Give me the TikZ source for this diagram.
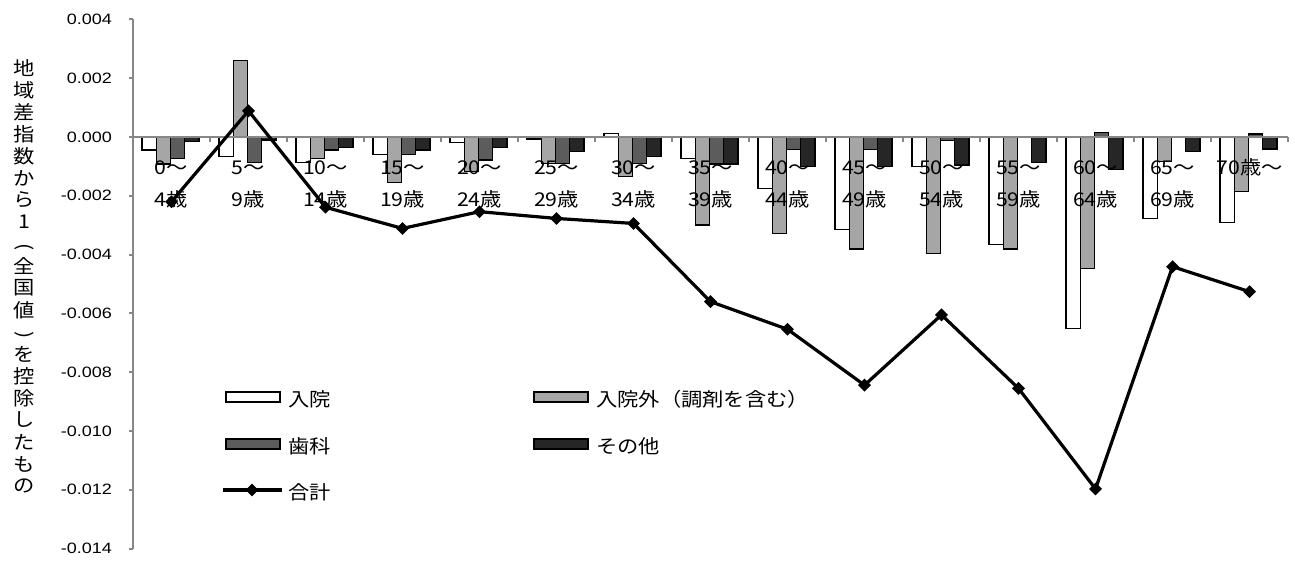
\documentclass[tikz,border=0pt]{standalone}
\usepackage{fontspec}
\setmainfont{Noto Sans CJK JP}[FakeStretch=1.12]
\newfontfamily\numfont{Liberation Sans}[FakeStretch=1.2]
\usetikzlibrary{shapes.geometric}
\usetikzlibrary{positioning}

\definecolor{barGray}{HTML}{A6A6A6}
\definecolor{barDark}{HTML}{5C5C5C}
\definecolor{barBlack}{HTML}{262626}
\definecolor{axisGray}{HTML}{878787}

% white/gray/dark/black bars and total, in units of 0.001
\newcommand{\agedata}{-0.44/-0.92/-0.72/-0.16/-2.20, -0.65/2.59/-0.86/-0.10/0.89,
  -0.87/-0.72/-0.44/-0.35/-2.39, -0.59/-1.55/-0.59/-0.44/-3.11,
  -0.19/-1.18/-0.78/-0.35/-2.54, -0.07/-0.90/-0.90/-0.50/-2.77,
  0.12/-1.33/-0.90/-0.65/-2.94, -0.72/-2.99/-0.92/-0.92/-5.60,
  -1.74/-3.28/-0.42/-1.01/-6.54, -3.14/-3.81/-0.42/-1.01/-8.44,
  -1.01/-3.96/-0.13/-0.95/-6.05, -3.65/-3.81/-0.02/-0.87/-8.55,
  -6.51/-4.47/0.16/-1.10/-11.97, -2.77/-0.84/-0.02/-0.50/-4.41,
  -2.91/-1.84/0.10/-0.41/-5.26}

\begin{document}
\begin{tikzpicture}[x=1pt,y=-1pt]
			\tikzset{bar/.style = {draw=black, line width=1.2pt}}
			\tikzset{barW/.style = {bar, fill=white}}
			\tikzset{barG/.style = {bar, fill=barGray}}
			\tikzset{barD/.style = {bar, fill=barDark}}
			\tikzset{barK/.style = {bar, fill=barBlack}}
			\tikzset{total/.style = {line width=3.2pt, line join=round}}
			\tikzset{dot/.style = {shape=diamond, fill=black, inner sep=0pt, 
					minimum size=13pt}}
			\tikzset{axisline/.style = {draw=axisGray, line width=2pt}}
			\tikzset{ticklab/.style = {font=\numfont\fontsize{15}{18}\selectfont, 
					anchor=east, inner sep=0pt}}
			\tikzset{catlab/.style = {font=\fontsize{19}{22}\selectfont, 
					anchor=base, inner sep=0pt}}
			\tikzset{legtext/.style = {font=\fontsize{19}{22}\selectfont, 
					anchor=west, inner sep=0pt}}
			\tikzset{ylab/.style = {font=\fontsize{19}{22}\selectfont, inner sep=0pt}}
			
			\useasboundingbox (0,0) rectangle (1295,563);
			
			% axis title
			\foreach \ch [count=\n from 0] in {地,域,差,指,数,か,ら,1,,全,国,値,,を,控,除,し,た,も,の}
				\node[ylab] (yl\n) at (24,68+22*\n) {\ch};
			\node[ylab, rotate=-90] (ylo) at (24,247) {(};
			\node[ylab, rotate=-90] (ylc) at (24,335) {)};
			
			\begin{scope}[shift={(133,137)}, y=29.4pt]
			% bars
			\foreach \w/\g/\d/\k/\t [count=\i from 0] in \agedata {
				\draw[barW] (77*\i+9,0) rectangle ++(14.25,\w);
				\draw[barG] (77*\i+23.25,0) rectangle ++(14.25,\g);
				\draw[barD] (77*\i+37.5,0) rectangle ++(14.25,\d);
				\draw[barK] (77*\i+51.75,0) rectangle ++(14.25,\k);
			}
			
			% axes
			\draw[axisline] (0,4) -- (0,-14);
			\draw[axisline] (0,0) -- (1155,0);
			\foreach \v/\lab [count=\n] in {4/0.004, 2/0.002, 0/0.000, -2/-0.002, 
					-4/-0.004, -6/-0.006, -8/-0.008, -10/-0.010, -12/-0.012, -14/-0.014} {
				\draw[axisline] (0,\v) -- ++(-4pt,0pt);
				\node[ticklab] (yt\n) at (-21,\v) {\lab};
			}
			\foreach \i in {1,...,15}
				\draw[axisline] (77*\i,0) -- ++(0pt,-5pt);
			
			% age labels
			\foreach \up/\low [count=\i from 0] in {0～/4歳, 5～/9歳, 10～/14歳, 
					15～/19歳, 20～/24歳, 25～/29歳, 30～/34歳, 35～/39歳, 40～/44歳, 
					45～/49歳, 50～/54歳, 55～/59歳, 60～/64歳, 65～/69歳} {
				\node[catlab, yshift=-37pt] (up\i) at (77*\i+38.5,0) {\up};
				\node[catlab] (lo\i) at ([yshift=-32pt]up\i.base) {\low};
			}
			\node[catlab, yshift=-37pt] (up14) at (77*14+38.5,0) {70歳～};
			
			% total
			\foreach \w/\g/\d/\k/\t [count=\i from 0] in \agedata
				\node[dot] (t\i) at (77*\i+38.5,\t) {};
			\foreach \i [count=\j from 1] in {0,...,13}
				\draw[total] (t\i.center) -- (t\j.center);
			\end{scope}
			
			% legend
			\draw[barW] (226,392) rectangle (280,402);
			\node[legtext] (lg1) at (288,399) {入院};
			\draw[barG] (534,392) rectangle (588,402);
			\node[legtext] (lg2) at (596,399) {入院外（調剤を含む）};
			\draw[barD] (226,439) rectangle (280,449);
			\node[legtext] (lg3) at (288,446) {歯科};
			\draw[barK] (534,439) rectangle (588,449);
			\node[legtext] (lg4) at (596,446) {その他};
			\coordinate (sumL) at (223,490);
			\coordinate (sumR) at (282,490);
			\node[dot] (sumD) at (252,490) {};
			\draw[total] (sumL) -- (sumR);
			\node[legtext] (lg5) at (288,492) {合計};
			
\end{tikzpicture}
\end{document}
